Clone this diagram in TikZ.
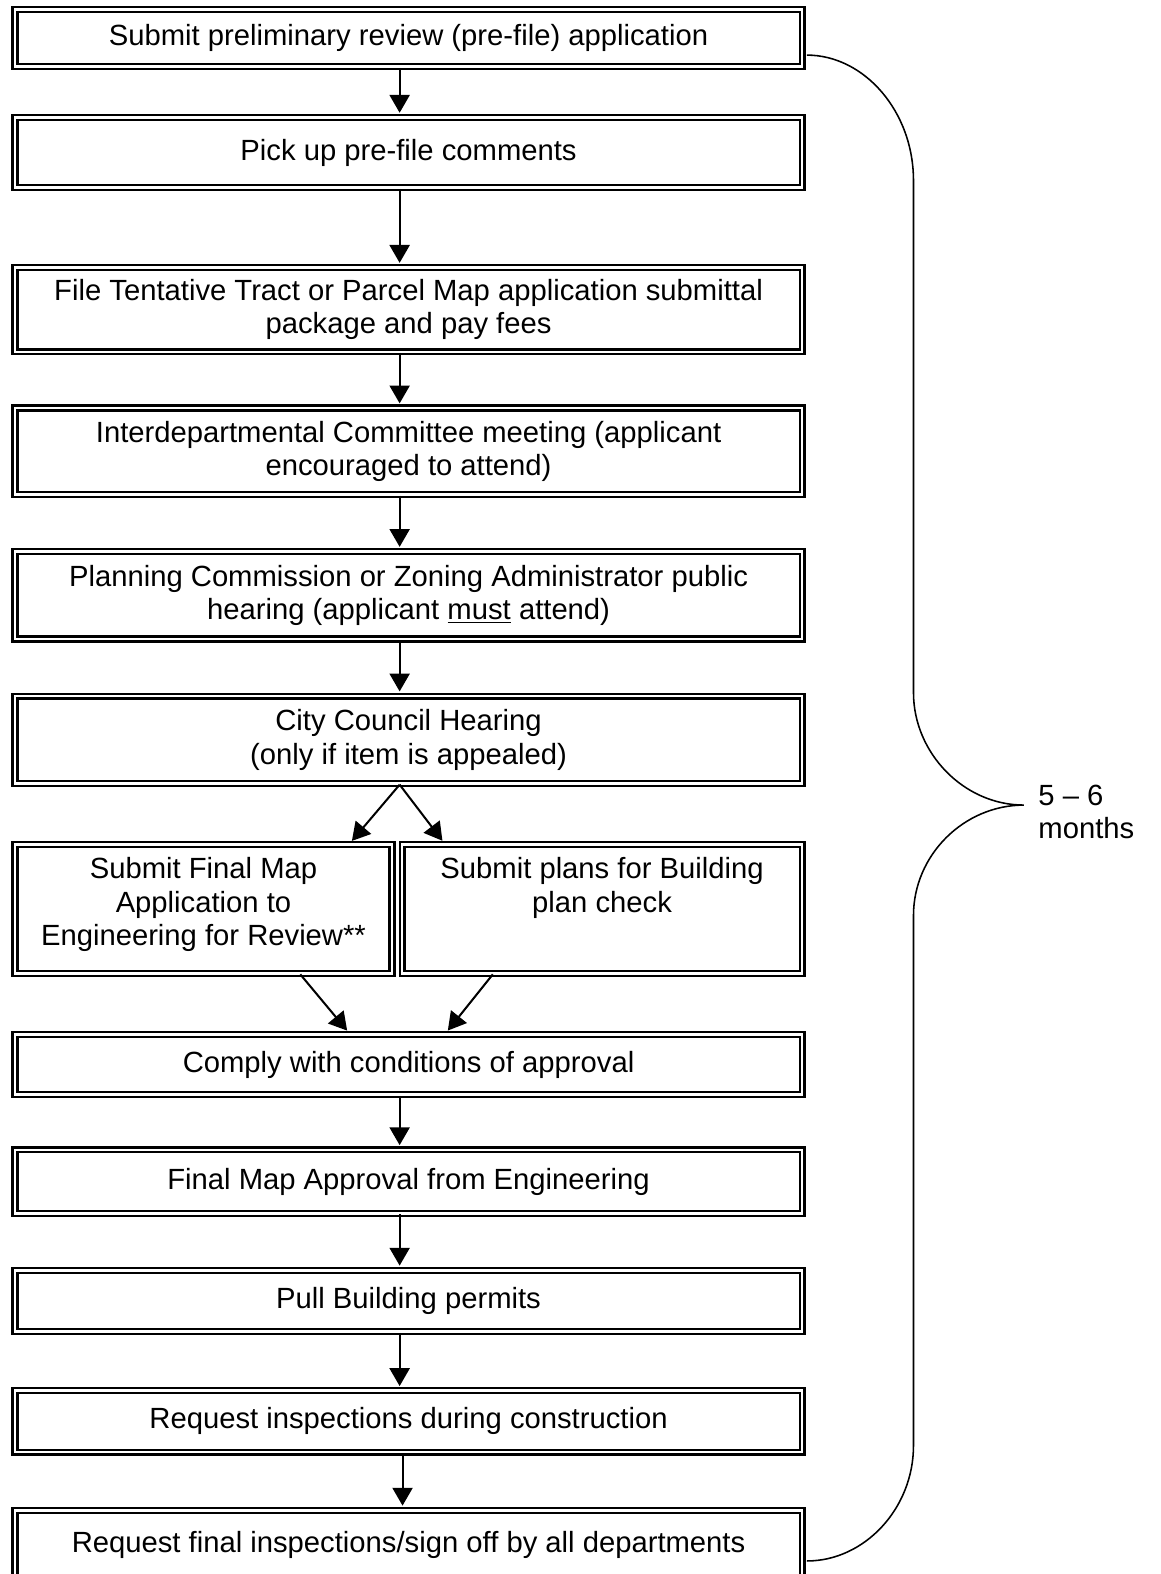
\documentclass[tikz,border=0pt]{standalone}
\usepackage{fontspec}
\setmainfont{Liberation Sans}
\usetikzlibrary{arrows.meta,positioning}

\begin{document}
\begin{tikzpicture}[x=0.45pt,y=-0.45pt,
    font=\fontsize{13.1}{14.9}\selectfont,
    stepbox/.style={draw,double,double distance=1.2pt,line width=1pt,
      align=center,inner sep=0pt,minimum width=352.8pt},
    arr/.style={-{Triangle[length=8pt,width=9pt]},line width=0.9pt,shorten >=1.6pt}]
  \useasboundingbox (0,0) rectangle (1156,1568);
  \node[stepbox,minimum height=25.6pt] (prefile) at (407,38) {Submit preliminary review (pre-file) application};
  \node[stepbox,minimum height=31.5pt] (comments) at (407,152) {Pick up pre-file comments};
  \node[stepbox,minimum height=37.8pt] (tentative) at (407,308.5) {File Tentative Tract or Parcel Map application submittal\\package and pay fees};
  \node[stepbox,minimum height=38.7pt] (committee) at (407,449.5) {Interdepartmental Committee meeting (applicant\\encouraged to attend)};
  \node[stepbox,minimum height=39.2pt] (hearing) at (407,593) {Planning Commission or Zoning Administrator public\\hearing (applicant \underline{must} attend)};
  \node[stepbox,minimum height=39.2pt] (council) at (407,737) {City Council Hearing\\(only if item is appealed)};
  \node[stepbox,minimum width=169pt,minimum height=57.6pt] (finalmap) at (202.7,905.5)
    {\parbox[c][46pt][t]{167pt}{\centering Submit Final Map\\Application to\\Engineering for Review**}};
  \node[stepbox,minimum width=179.3pt,minimum height=57.6pt] (plancheck) at (599.8,905.5)
    {\parbox[c][46pt][t]{175pt}{\centering Submit plans for Building\\plan check}};
  \node[stepbox,minimum height=27pt] (comply) at (407,1060.5) {Comply with conditions of approval};
  \node[stepbox,minimum height=28.4pt] (approval) at (407,1177) {Final Map Approval from Engineering};
  \node[stepbox,minimum height=27.5pt] (permits) at (407,1296) {Pull Building permits};
  \node[stepbox,minimum height=27.5pt] (inspect) at (407,1416) {Request inspections during construction};
  \node[stepbox,minimum height=31pt] (signoff) at (407,1539) {Request final inspections/sign off by all departments};

  \draw[arr] ([xshift=-4pt]prefile.south) -- ([xshift=-4pt]comments.north);
  \draw[arr] ([xshift=-4pt]comments.south) -- ([xshift=-4pt]tentative.north);
  \draw[arr] ([xshift=-4pt]tentative.south) -- ([xshift=-4pt]committee.north);
  \draw[arr] ([xshift=-4pt]committee.south) -- ([xshift=-4pt]hearing.north);
  \draw[arr] ([xshift=-4pt]hearing.south) -- ([xshift=-4pt]council.north);
  \draw[arr] ([xshift=-4pt]council.south) -- ([xshift=65.5pt]finalmap.north);
  \draw[arr] ([xshift=-4pt]council.south) -- ([xshift=-70.6pt]plancheck.north);
  \draw[arr] ([xshift=43.4pt]finalmap.south) -- ([xshift=-26.5pt]comply.north);
  \draw[arr] ([xshift=-49pt]plancheck.south) -- ([xshift=16.6pt]comply.north);
  \draw[arr] ([xshift=-4pt]comply.south) -- ([xshift=-4pt]approval.north);
  \draw[arr] ([xshift=-4pt]approval.south) -- ([xshift=-4pt]permits.north);
  \draw[arr] ([xshift=-4pt]permits.south) -- ([xshift=-4pt]inspect.north);
  \draw[arr] ([xshift=-2.7pt]inspect.south) -- ([xshift=-2.7pt]signoff.north);

  \coordinate (tip) at (1020,802);
  \draw[line width=0.7pt] ([xshift=1.7pt,yshift=-7.6pt]prefile.east)
    .. controls (861,55) and (910,111) .. (910,180) -- (910,690)
    .. controls (910,750) and (960,802) .. (tip)
    .. controls (960,802) and (910,852) .. (910,912) -- (910,1440)
    .. controls (910,1503) and (861,1555) .. ([xshift=1.7pt,yshift=-7.2pt]signoff.east);
  \node[anchor=west,align=left] (months) at ([xshift=3pt,yshift=-3pt]tip) {5 – 6\\months};
\end{tikzpicture}
\end{document}
